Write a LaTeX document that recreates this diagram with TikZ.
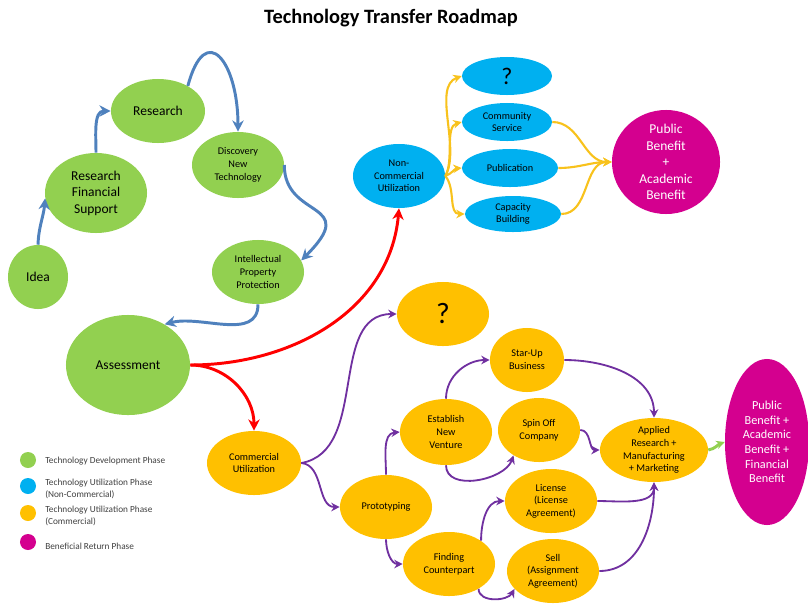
\documentclass[tikz,border=0pt]{standalone}
\usepackage{fontspec}
\setmainfont{Carlito}
\usepackage{xcolor}
\usepackage{tikz}
\usetikzlibrary{positioning, shapes, arrows, calc, arrows.meta}

\definecolor{devgreen}{HTML}{92D050}
\definecolor{ncblue}{HTML}{00B0F0}
\definecolor{comorange}{HTML}{FFC000}
\definecolor{retmagenta}{HTML}{D4008F}
\definecolor{arrblue}{HTML}{4F81BD}
\definecolor{arryellow}{HTML}{F8C21C}
\definecolor{arrpurple}{HTML}{7030A0}
\definecolor{legtext}{HTML}{404040}

\newcommand{\bigtxt}{\fontsize{9.6}{11.7}\selectfont}
\newcommand{\smalltxt}{\fontsize{7.3}{9}\selectfont}
\newcommand{\legtxt}{\fontsize{6.6}{8}\selectfont}

\tikzset{
  phase/.style={ellipse, inner sep=0pt, align=center, text=black},
  sz/.style 2 args={minimum width=#1*0.05cm, minimum height=#2*0.05cm},
  devnode/.style={phase, fill=devgreen},
  ncnode/.style={phase, fill=ncblue},
  comnode/.style={phase, fill=comorange},
  retnode/.style={phase, fill=retmagenta, text=white},
  legdot/.style={circle, inner sep=0pt, minimum size=0.4cm},
  legentry/.style={anchor=west, align=left, text=legtext, inner sep=0pt, font=\legtxt},
  bluearr/.style={arrblue, line width=2.1pt, -{Stealth[length=8pt,width=8pt]}},
  redarr/.style={red, line width=2.1pt, -{Stealth[length=8pt,width=8pt]}},
  yellowarr/.style={arryellow, line width=1.5pt, -{Stealth[length=6pt,width=6pt]}},
  purplearr/.style={arrpurple, line width=1.3pt, -{Stealth[length=6pt,width=6pt]}},
  greenarr/.style={devgreen, line width=2.1pt, -{Stealth[length=6pt,width=6pt]}}
}

\begin{document}
\begin{tikzpicture}[x=0.025cm, y=0.025cm]
    \useasboundingbox (0,0) rectangle (808,-606);
    \node[font=\fontsize{14.5}{17}\selectfont\bfseries] (title) at (391,-18) {Technology Transfer Roadmap};

    % development phase
    \node[devnode, sz={30}{32}, font=\bigtxt] (idea) at (38,-277) {Idea};
    \node[devnode, sz={51}{40}, font=\bigtxt] (finsup) at (96,-193) {Research\\Financial\\Support};
    \node[devnode, sz={47}{32}, font=\bigtxt] (research) at (158,-111) {Research};
    \node[devnode, sz={46}{33}, font=\smalltxt] (discov) at (238,-165) {Discovery\\New\\Technology};
    \node[devnode, sz={46}{32}, font=\smalltxt] (ipp) at (258,-272) {Intellectual\\Property\\Protection};
    \node[devnode, sz={62}{50}, font=\bigtxt] (assess) at (128,-365) {Assessment};

    % non-commercial branch
    \node[ncnode, sz={45}{19}, font=\fontsize{17}{19}\selectfont] (ncq) at (507,-76) {?};
    \node[ncnode, sz={46}{32}, font=\smalltxt] (noncom) at (399,-176) {Non-\\Commercial\\Utilization};
    \node[ncnode, sz={45}{19}, font=\smalltxt] (commserv) at (507,-122) {Community\\Service};
    \node[ncnode, sz={48}{19}, font=\smalltxt] (publ) at (510,-168) {Publication};
    \node[ncnode, sz={48}{18}, font=\smalltxt] (capbuild) at (513,-214) {Capacity\\Building};
    \node[retnode, sz={54}{52}, inner ysep=-3pt, font=\bigtxt] (acadben) at (666,-162) {Public\\Benefit\\+\\Academic\\Benefit};

    % commercial branch
    \node[comnode, sz={47}{32}, font=\smalltxt] (comutil) at (254,-463) {Commercial\\Utilization};
    \node[comnode, sz={46}{32}, font=\fontsize{21}{23}\selectfont] (comq) at (443,-314) {?};
    \node[comnode, sz={46}{32}, font=\smalltxt] (proto) at (386,-507) {Prototyping};
    \node[comnode, sz={46}{33}, font=\smalltxt] (newvent) at (446,-432) {Establish\\New\\Venture};
    \node[comnode, sz={46}{32}, font=\smalltxt] (counterp) at (449,-564) {Finding\\Counterpart};
    \node[comnode, sz={37}{32}, font=\smalltxt] (startup) at (527,-360) {Star-Up\\Business};
    \node[comnode, sz={41}{32}, font=\smalltxt] (spinoff) at (539,-430) {Spin Off\\Company};
    \node[comnode, sz={46}{32}, font=\smalltxt] (license) at (551,-501) {License\\(License\\Agreement)};
    \node[comnode, sz={46}{32}, font=\smalltxt] (sell) at (553,-571) {Sell\\(Assignment\\Agreement)};
    \node[comnode, sz={54}{32}, inner ysep=-2pt, font=\smalltxt] (applied) at (654,-450) {Applied\\Research +\\Manufacturing\\+ Marketing};
    \node[retnode, sz={42}{83}, font=\fontsize{8.7}{10.4}\selectfont] (finben) at (767,-442) {Public\\Benefit +\\Academic\\Benefit +\\Financial\\Benefit};

    % legend
    \node[legdot, fill=devgreen] (dotdev) at (28,-460) {};
    \node[legdot, fill=ncblue] (dotnc) at (28,-486) {};
    \node[legdot, fill=comorange] (dotcom) at (28,-513) {};
    \node[legdot, fill=retmagenta] (dotret) at (28,-542) {};
    \node[legentry] (legdev) at (45,-461) {Technology Development Phase};
    \node[legentry] (legnc) at (45,-489) {Technology Utilization Phase\\(Non-Commercial)};
    \node[legentry] (legcom) at (45,-516) {Technology Utilization Phase\\(Commercial)};
    \node[legentry] (legret) at (45,-546) {Beneficial Return Phase};

    % connectors
    \draw[bluearr] (idea.north) to[out=88, in=265] (finsup.186);
    \draw[bluearr] (finsup.north) to[out=90, in=180] (research.west);
    \draw[bluearr] (research.40) to[out=75, in=90, looseness=2.6] (discov.north);
    \draw[bluearr] (discov.east) .. controls +(0,-55) and +(60,60) .. (ipp.15);
    \draw[bluearr] (ipp.south) to[out=-90, in=15] (assess.48);

    \draw[redarr] (assess.east) to[out=0, in=-95] (noncom.south);
    \draw[redarr] (assess.east) to[out=0, in=90] (comutil.north);

    \draw[yellowarr] (noncom.east) to[out=60, in=200, looseness=0.8] (ncq.west);
    \draw[yellowarr] (noncom.east) to[out=60, in=195, looseness=0.8] (commserv.west);
    \draw[yellowarr] (noncom.east) to[out=20, in=185] (publ.west);
    \draw[yellowarr] (noncom.east) to[out=-50, in=180] (capbuild.west);
    \draw[yellowarr] (commserv.east) to[out=0, in=180] (acadben.west);
    \draw[yellowarr] (publ.east) to[out=0, in=180] (acadben.west);
    \draw[yellowarr] (capbuild.east) to[out=0, in=180] (acadben.west);

    \draw[purplearr] (comutil.east) to[out=10, in=180] (comq.west);
    \draw[purplearr] (comutil.east) to[out=-5, in=180] (proto.west);
    \draw[purplearr] (proto.north) to[out=90, in=185] (newvent.west);
    \draw[purplearr] (proto.south) to[out=-90, in=180] (counterp.west);
    \draw[purplearr] (newvent.north) to[out=90, in=180] (startup.west);
    \draw[purplearr] (newvent.south) to[out=-90, in=-110] (spinoff.225);
    \draw[purplearr] (counterp.36) to[out=90, in=180] (license.west);
    \draw[purplearr] (counterp.-40) to[out=-90, in=-120] (sell.205);
    \draw[purplearr] (startup.east) to[out=0, in=90] (applied.north);
    \draw[purplearr] (spinoff.east) to[out=0, in=180] (applied.west);
    \draw[purplearr] (license.east) to[out=0, in=-90] (applied.south);
    \draw[purplearr] (sell.east) to[out=0, in=-90] (applied.south);
    \draw[greenarr] (applied.east) to[out=10, in=200] (finben.west);
  \end{tikzpicture}
\end{document}
